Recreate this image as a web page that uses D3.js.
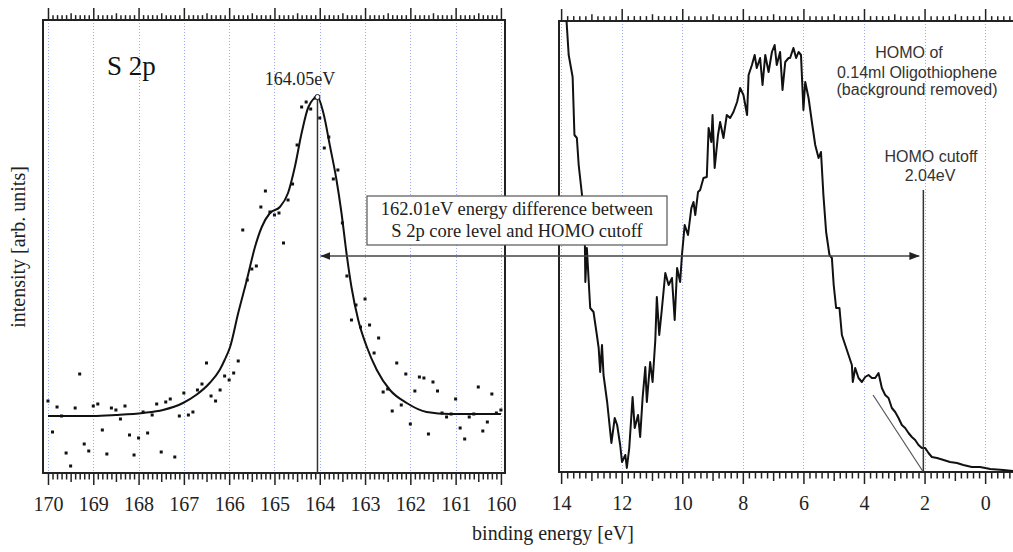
<!DOCTYPE html>
<html>
<head>
<meta charset="utf-8">
<script src="https://cdn.jsdelivr.net/npm/d3@7"></script>
<style>
  body { margin: 0; background: #fff; }
  svg { display: block; }
</style>
</head>
<body>
<div id="chart"></div>
<script>
// S 2p core level: measured points (binding energy, intensity)
const s2pEnergy = [170.0,169.9,169.8,169.7,169.6,169.5,169.4,169.3,169.2,169.1,
  169.0,168.9,168.8,168.7,168.6,168.5,168.4,168.3,168.2,168.1,
  168.0,167.9,167.8,167.7,167.6,167.5,167.4,167.3,167.2,167.1,
  167.0,166.9,166.8,166.7,166.6,166.5,166.4,166.3,166.2,166.1,
  166.0,165.9,165.8,165.7,165.6,165.5,165.4,165.3,165.2,165.1,
  165.0,164.9,164.8,164.7,164.6,164.5,164.4,164.3,164.2,164.1,
  164.0,163.9,163.8,163.7,163.6,163.5,163.4,163.3,163.2,163.1,
  163.0,162.9,162.8,162.7,162.6,162.5,162.4,162.3,162.2,162.1,
  162.0,161.9,161.8,161.7,161.6,161.5,161.4,161.3,161.2,161.1,
  161.0,160.9,160.8,160.7,160.6,160.5,160.4,160.3,160.2,160.1,160.0];
const s2pCounts = [72,41,66,57,20,7,65,99,29,22,
  67,69,43,19,65,63,54,67,38,18,
  35,61,40,58,69,21,71,74,16,57,
  80,58,61,83,89,110,77,72,83,97,
  93,100,112,243,193,204,207,266,282,261,
  258,260,230,273,289,328,366,371,364,375,
  355,325,336,294,303,250,197,153,168,146,
  174,148,120,135,81,84,62,110,68,99,
  49,82,96,95,39,91,82,60,56,59,
  74,45,34,56,59,86,42,51,79,60,63];

// fitted envelope
const fitEnergy = [170.0,169.0,168.5,167.9,167.46,167.02,166.73,166.43,166.21,166.1,
  165.98,165.8,165.61,165.43,165.28,165.1,164.88,164.7,164.55,164.4,
  164.25,164.05,163.92,163.77,163.63,163.52,163.41,163.3,163.15,162.96,
  162.74,162.45,162.08,161.64,161.13,160.0];
const fitCounts = [57,57,58,60,63,70,78,90,103,113,
  126,160,193,226,246,260,266,280,306,340,
  366,376,360,326,293,260,220,186,153,126,
  103,83,70,61,59,59];

// HOMO valence band spectrum
const homoEnergy = [13.84,13.75,13.62,13.56,13.48,13.42,13.31,13.22,13.20,13.15,
  13.04,12.93,12.82,12.76,12.71,12.65,12.60,12.48,12.34,12.23,
  12.15,12.05,11.99,11.88,11.83,11.75,11.64,11.57,11.46,11.39,
  11.31,11.22,11.17,11.06,10.98,10.89,10.84,10.76,10.67,10.56,
  10.45,10.34,10.25,10.17,10.07,10.01,9.92,9.81,9.70,9.63,
  9.57,9.48,9.41,9.30,9.19,9.13,9.04,9.00,8.93,8.82,
  8.75,8.64,8.53,8.42,8.31,8.19,8.09,7.98,7.86,7.81,
  7.70,7.61,7.54,7.43,7.35,7.26,7.15,7.04,6.95,6.88,
  6.77,6.69,6.60,6.49,6.44,6.33,6.24,6.16,6.08,6.00,
  5.94,5.83,5.72,5.61,5.50,5.42,5.34,5.25,5.14,5.06,
  5.00,4.92,4.81,4.73,4.62,4.51,4.40,4.37,4.29,4.18,
  4.07,3.96,3.85,3.74,3.63,3.52,3.41,3.30,3.19,3.08,
  2.97,2.86,2.75,2.64,2.53,2.42,2.31,2.20,2.09,1.98,
  1.87,1.76,1.59,1.37,1.16,0.93,0.72,0.44,0.17,-0.17,-0.60,-0.92];
const homoCounts = [460,417,395,337,334,307,277,240,190,224,
  164,160,137,124,100,127,97,70,29,54,
  47,27,10,17,4,24,75,44,57,35,
  74,105,70,110,90,132,175,137,164,199,
  187,194,152,204,190,217,247,237,264,270,
  257,280,282,294,295,344,330,357,304,337,
  350,334,357,354,360,370,384,377,357,397,
  407,417,404,414,387,417,400,420,427,407,
  420,382,410,414,414,424,414,420,417,362,
  390,374,350,327,314,320,277,240,217,214,
  187,164,164,137,127,117,107,90,104,94,
  90,95,97,94,94,99,84,77,74,64,
  60,54,47,44,39,35,32,27,24,24,
  19,15,14,12,10,9,7,5,5,3,2,1];

const leftTicks = [170,169,168,167,166,165,164,163,162,161,160];
const rightTicks = [14,12,10,8,6,4,2,0];
const peakEnergy = 164.05, peakCount = 376;
const cutoffEnergy = 2.04;
const tangentEnergy = [3.70, 2.04], tangentCounts = [77, 0];

const width = 1013, height = 552;
const serif = "'Liberation Serif', 'Times New Roman', serif";
const sans = "'Liberation Sans', Arial, sans-serif";

const svg = d3.select('#chart').append('svg')
  .attr('width', width)
  .attr('height', height)
  .style('background', '#fff');

const L = { x0: 43, x1: 505, y0: 20, y1: 473 };
const R = { x0: 559, x1: 1013, y0: 21, y1: 472 };

const xL = d3.scaleLinear().domain([170.11, 159.91]).range([L.x0, L.x1]);
const yL = d3.scaleLinear().domain([0, 453]).range([L.y1, L.y0]);
const xR = d3.scaleLinear().domain([14.07, -0.92]).range([R.x0, R.x1]);
const yR = d3.scaleLinear().domain([0, 451]).range([R.y1, R.y0]);

svg.append('defs').append('clipPath').attr('id', 'clipR')
  .append('rect').attr('x', R.x0).attr('y', R.y0)
  .attr('width', R.x1 - R.x0).attr('height', R.y1 - R.y0);

// dotted grid, snapped to pixel centres so the dots stay crisp
function grid(scale, ticks, p) {
  svg.append('g').selectAll('line').data(ticks).enter().append('line')
    .attr('x1', d => Math.round(scale(d)) + 0.5).attr('x2', d => Math.round(scale(d)) + 0.5)
    .attr('y1', p.y0).attr('y2', p.y1)
    .style('stroke', '#9ea8f2')
    .style('stroke-width', 1)
    .style('stroke-dasharray', '1,2');
}
grid(xL, leftTicks, L);
grid(xR, rightTicks, R);

// tick rows top and bottom, majors with labels
function tickRow(scale, p, majors, mids, minors, labels) {
  const b = svg.append('g').attr('transform', `translate(0,${p.y1})`);
  const t = svg.append('g').attr('transform', `translate(0,${p.y0})`);
  [[minors, 6.5], [mids, 9]].forEach(([vals, s]) => {
    b.append('g').call(d3.axisBottom(scale).tickValues(vals).tickSize(s).tickFormat(''));
    t.append('g').call(d3.axisTop(scale).tickValues(vals).tickSize(s * 0.75).tickFormat(''));
  });
  b.append('g').call(d3.axisBottom(scale).tickValues(majors).tickSize(12).tickPadding(12).tickFormat(labels ? d3.format('d') : ''));
  t.append('g').call(d3.axisTop(scale).tickValues(majors).tickSize(12).tickFormat(''));
  svg.selectAll('.domain').remove();
  [b, t].forEach(g => {
    g.selectAll('line').style('stroke', '#222').style('stroke-width', 1.5);
    g.selectAll('text').style('font-family', serif).style('font-size', '20px').style('fill', '#222');
  });
}

const leftMinor = d3.range(1600, 1701).map(d => d / 10).filter(d => d % 0.5 !== 0);
const leftMid = d3.range(160.5, 170, 1);
tickRow(xL, L, leftTicks, leftMid, leftMinor, true);

const rightMinor = d3.range(-4, 71).map(d => d / 5).filter(d => Math.abs(d - Math.round(d)) > 1e-6);
const rightMid = d3.range(-1, 15, 2);
tickRow(xR, R, rightTicks, rightMid, rightMinor, true);

// frames
svg.append('rect').attr('x', L.x0).attr('y', L.y0)
  .attr('width', L.x1 - L.x0).attr('height', L.y1 - L.y0)
  .style('fill', 'none').style('stroke', '#222').style('stroke-width', 2);
svg.append('rect').attr('x', R.x0).attr('y', R.y0)
  .attr('width', R.x1 - R.x0 + 5).attr('height', R.y1 - R.y0)
  .style('fill', 'none').style('stroke', '#222').style('stroke-width', 2);

// S 2p fit and data points
const fitLine = d3.line()
  .x((d, i) => xL(fitEnergy[i]))
  .y(d => yL(d))
  .curve(d3.curveMonotoneX);
svg.append('path').datum(fitCounts)
  .attr('d', fitLine)
  .style('fill', 'none').style('stroke', '#111').style('stroke-width', 2);

svg.append('g').selectAll('rect').data(s2pCounts).enter().append('rect')
  .attr('x', (d, i) => xL(s2pEnergy[i]) - 1.5)
  .attr('y', d => yL(d) - 1.5)
  .attr('width', 3).attr('height', 3)
  .style('fill', '#111');

svg.append('line')
  .attr('x1', xL(peakEnergy)).attr('x2', xL(peakEnergy))
  .attr('y1', yL(peakCount)).attr('y2', L.y1)
  .style('stroke', '#333').style('stroke-width', 1.5);
svg.append('circle')
  .attr('cx', xL(peakEnergy)).attr('cy', yL(peakCount)).attr('r', 2.5)
  .style('fill', '#fff').style('stroke', '#111').style('stroke-width', 1);

// HOMO spectrum
const homoLine = d3.line()
  .x((d, i) => xR(homoEnergy[i]))
  .y(d => yR(d));
svg.append('path').datum(homoCounts)
  .attr('clip-path', 'url(#clipR)')
  .attr('d', homoLine)
  .style('fill', 'none').style('stroke', '#111').style('stroke-width', 2)
  .style('stroke-linejoin', 'round');

svg.append('line')
  .attr('x1', xR(tangentEnergy[0])).attr('y1', yR(tangentCounts[0]))
  .attr('x2', xR(tangentEnergy[1])).attr('y2', yR(tangentCounts[1]))
  .style('stroke', '#555').style('stroke-width', 1.2);

svg.append('line')
  .attr('x1', xR(cutoffEnergy)).attr('x2', xR(cutoffEnergy))
  .attr('y1', yR(282)).attr('y2', R.y1)
  .style('stroke', '#333').style('stroke-width', 1.5);

// double arrow across both panels
const defs = svg.select('defs');
['start', 'end'].forEach(k => {
  defs.append('marker')
    .attr('id', 'arrow-' + k)
    .attr('viewBox', '0 0 10 8')
    .attr('refX', k === 'end' ? 10 : 0).attr('refY', 4)
    .attr('markerWidth', 10).attr('markerHeight', 8)
    .attr('markerUnits', 'userSpaceOnUse')
    .attr('orient', 'auto')
    .append('path')
      .attr('d', k === 'end' ? 'M0,0 L10,4 L0,8 Z' : 'M10,0 L0,4 L10,8 Z')
      .style('fill', '#222');
});
const arrowY = yL(217);
svg.append('line')
  .attr('x1', xL(peakEnergy) + 3).attr('x2', xR(cutoffEnergy) - 4)
  .attr('y1', arrowY).attr('y2', arrowY)
  .attr('marker-start', 'url(#arrow-start)')
  .attr('marker-end', 'url(#arrow-end)')
  .style('stroke', '#444').style('stroke-width', 1.5);

// annotation box
svg.append('rect')
  .attr('x', 367).attr('y', 196).attr('width', 300).attr('height', 49)
  .style('fill', '#fff').style('stroke', '#555').style('stroke-width', 1.2);
svg.append('text')
  .attr('x', 517).attr('y', 215).attr('text-anchor', 'middle')
  .style('font-family', serif).style('font-size', '18.5px').style('fill', '#222')
  .text('162.01eV energy difference between');
svg.append('text')
  .attr('x', 517).attr('y', 237).attr('text-anchor', 'middle')
  .style('font-family', serif).style('font-size', '18.5px').style('fill', '#222')
  .text('S 2p core level and HOMO cutoff');

// labels
svg.append('text').attr('x', 107).attr('y', 75)
  .style('font-family', serif).style('font-size', '27px').style('fill', '#111')
  .text('S 2p');
svg.append('text').attr('x', 300).attr('y', 85).attr('text-anchor', 'middle')
  .style('font-family', serif).style('font-size', '18px').style('fill', '#222')
  .text('164.05eV');

const sansLabels = [
  ['HOMO of', 909, 58],
  ['0.14ml Oligothiophene', 917, 78],
  ['(background removed)', 917, 95],
  ['HOMO cutoff', 931, 162],
  ['2.04eV', 930, 181]
];
svg.append('g').selectAll('text').data(sansLabels).enter().append('text')
  .attr('x', d => d[1]).attr('y', d => d[2])
  .attr('text-anchor', 'middle')
  .style('font-family', sans).style('font-size', '16px').style('fill', '#333')
  .text(d => d[0]);

svg.append('text')
  .attr('x', 553).attr('y', 540).attr('text-anchor', 'middle')
  .style('font-family', serif).style('font-size', '20px').style('fill', '#222')
  .text('binding energy [eV]');
svg.append('text')
  .attr('transform', 'translate(25,247) rotate(-90)')
  .attr('text-anchor', 'middle')
  .style('font-family', serif).style('font-size', '20px').style('fill', '#222')
  .text('intensity [arb. units]');
</script>
</body>
</html>
